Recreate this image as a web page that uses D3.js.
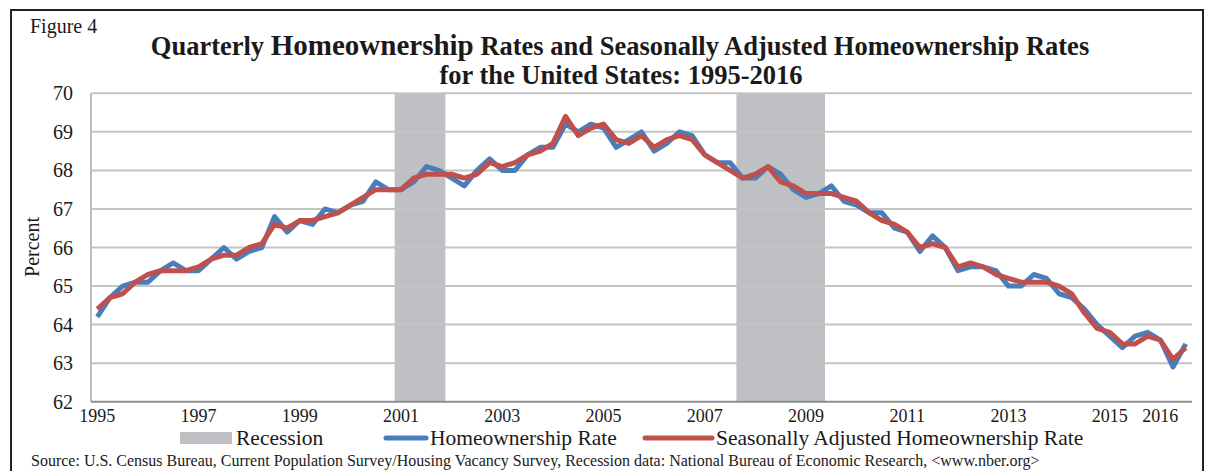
<!DOCTYPE html>
<html>
<head>
<meta charset="utf-8">
<script src="https://cdn.jsdelivr.net/npm/d3@7"></script>
<style>
  body { margin: 0; background: #fff; }
  text { font-family: "Liberation Serif", "Times New Roman", serif; fill: #1a1a1a; }
</style>
</head>
<body>
<div id="chart"></div>
<script>
// Quarterly data, 1995Q1 - 2016Q3 (by year)
var years = d3.range(1995, 2017);

var homeownership = [
  64.2, 64.7, 65.0, 65.1,   // 1995
  65.1, 65.4, 65.6, 65.4,   // 1996
  65.4, 65.7, 66.0, 65.7,   // 1997
  65.9, 66.0, 66.8, 66.4,   // 1998
  66.7, 66.6, 67.0, 66.9,   // 1999
  67.1, 67.2, 67.7, 67.5,   // 2000
  67.5, 67.7, 68.1, 68.0,   // 2001
  67.8, 67.6, 68.0, 68.3,   // 2002
  68.0, 68.0, 68.4, 68.6,   // 2003
  68.6, 69.2, 69.0, 69.2,   // 2004
  69.1, 68.6, 68.8, 69.0,   // 2005
  68.5, 68.7, 69.0, 68.9,   // 2006
  68.4, 68.2, 68.2, 67.8,   // 2007
  67.8, 68.1, 67.9, 67.5,   // 2008
  67.3, 67.4, 67.6, 67.2,   // 2009
  67.1, 66.9, 66.9, 66.5,   // 2010
  66.4, 65.9, 66.3, 66.0,   // 2011
  65.4, 65.5, 65.5, 65.4,   // 2012
  65.0, 65.0, 65.3, 65.2,   // 2013
  64.8, 64.7, 64.4, 64.0,   // 2014
  63.7, 63.4, 63.7, 63.8,   // 2015
  63.6, 62.9, 63.5          // 2016
];

var seasonallyAdjusted = [
  64.4, 64.7, 64.8, 65.1,   // 1995
  65.3, 65.4, 65.4, 65.4,   // 1996
  65.5, 65.7, 65.8, 65.8,   // 1997
  66.0, 66.1, 66.6, 66.5,   // 1998
  66.7, 66.7, 66.8, 66.9,   // 1999
  67.1, 67.3, 67.5, 67.5,   // 2000
  67.5, 67.8, 67.9, 67.9,   // 2001
  67.9, 67.8, 67.9, 68.2,   // 2002
  68.1, 68.2, 68.4, 68.5,   // 2003
  68.7, 69.4, 68.9, 69.1,   // 2004
  69.2, 68.8, 68.7, 68.9,   // 2005
  68.6, 68.8, 68.9, 68.8,   // 2006
  68.4, 68.2, 68.0, 67.8,   // 2007
  67.9, 68.1, 67.7, 67.6,   // 2008
  67.4, 67.4, 67.4, 67.3,   // 2009
  67.2, 66.9, 66.7, 66.6,   // 2010
  66.4, 66.0, 66.1, 66.0,   // 2011
  65.5, 65.6, 65.5, 65.3,   // 2012
  65.2, 65.1, 65.1, 65.1,   // 2013
  65.0, 64.8, 64.3, 63.9,   // 2014
  63.8, 63.5, 63.5, 63.7,   // 2015
  63.6, 63.1, 63.4          // 2016
];

// Recessions as [first quarter, last quarter]
var recessions = [["2001Q1", "2001Q4"], ["2007Q4", "2009Q2"]];

var xTickLabels = ["1995", "1997", "1999", "2001", "2003", "2005", "2007", "2009", "2011", "2013", "2015", "2016"];
var yTicks = [62, 63, 64, 65, 66, 67, 68, 69, 70];

// quarter names for the category axis
var quarters = homeownership.map((d, i) => (1995 + Math.floor(i / 4)) + "Q" + (i % 4 + 1));

var width = 1212, height = 471;
var plot = { left: 91, right: 1192, top: 93.3, bottom: 401.7 };

var svg = d3.select("#chart").append("svg")
    .attr("width", width)
    .attr("height", height);

// outer frame
svg.append("rect")
    .attr("x", 11).attr("y", 10)
    .attr("width", 1192).attr("height", 480)
    .attr("fill", "none")
    .attr("stroke", "#222")
    .attr("stroke-width", 2);

var x = d3.scaleBand()
    .domain(quarters)
    .range([plot.left, plot.right])
    .padding(0);

var y = d3.scaleLinear()
    .domain([62, 70])
    .range([plot.bottom, plot.top]);

var cx = q => x(q) + x.bandwidth() / 2;

// recession bars
svg.append("g").selectAll("rect")
  .data(recessions)
  .enter().append("rect")
    .attr("x", d => x(d[0]))
    .attr("width", d => x(d[1]) + x.bandwidth() - x(d[0]))
    .attr("y", y(70))
    .attr("height", y(62) - y(70))
    .attr("fill", "#bfc0c4");

// gridlines
svg.append("g").selectAll("line")
  .data(yTicks.slice(1))
  .enter().append("line")
    .attr("x1", plot.left).attr("x2", plot.right)
    .attr("y1", d => y(d)).attr("y2", d => y(d))
    .attr("stroke", "#c4c4c4")
    .attr("stroke-width", 2);

// y axis line
svg.append("line")
    .attr("x1", plot.left).attr("x2", plot.left)
    .attr("y1", y(70)).attr("y2", y(62))
    .attr("stroke", "#bdbdbd").attr("stroke-width", 2);

// x axis line
svg.append("line")
    .attr("x1", plot.left).attr("x2", plot.right)
    .attr("y1", y(62)).attr("y2", y(62))
    .attr("stroke", "#8e8e8e").attr("stroke-width", 2);

// y tick labels
svg.append("g").selectAll("text")
  .data(yTicks)
  .enter().append("text")
    .attr("x", 73)
    .attr("y", d => y(d) + 7)
    .attr("text-anchor", "end")
    .style("font-size", "20px")
    .text(d => d);

// x tick labels (at Q1 of each labelled year)
svg.append("g").selectAll("text")
  .data(xTickLabels)
  .enter().append("text")
    .attr("x", d => cx(d + "Q1"))
    .attr("y", 422)
    .attr("text-anchor", "middle")
    .style("font-size", "18px")
    .text(d => d);

// y axis title
svg.append("text")
    .attr("transform", "translate(39,247) rotate(-90)")
    .attr("text-anchor", "middle")
    .style("font-size", "20px")
    .text("Percent");

// lines
var line = series => d3.line()
    .x((d, i) => cx(quarters[i]))
    .y(d => y(d))(series);

svg.append("path")
    .attr("d", line(homeownership))
    .attr("fill", "none")
    .attr("stroke", "#4a7ebb")
    .attr("stroke-width", 5)
    .attr("stroke-linejoin", "round");

svg.append("path")
    .attr("d", line(seasonallyAdjusted))
    .attr("fill", "none")
    .attr("stroke", "#c0504d")
    .attr("stroke-width", 5)
    .attr("stroke-linejoin", "round");

// titles
svg.append("text")
    .attr("x", 30).attr("y", 33)
    .style("font-size", "20px")
    .text("Figure 4");

var title = svg.append("text")
    .attr("x", 620).attr("y", 55)
    .attr("text-anchor", "middle")
    .style("font-size", "26.5px")
    .style("font-weight", "bold");
title.append("tspan").text("Quarterly ");
title.append("tspan").style("font-size", "29px").text("Homeownership");
title.append("tspan").text(" Rates and Seasonally Adjusted Homeownership Rates");

svg.append("text")
    .attr("x", 621).attr("y", 84)
    .attr("text-anchor", "middle")
    .style("font-size", "26.5px")
    .style("font-weight", "bold")
    .text("for the United States: 1995-2016");

// legend
var leg = svg.append("g");
leg.append("rect")
    .attr("x", 180).attr("y", 432)
    .attr("width", 52).attr("height", 12)
    .attr("fill", "#bfc0c4");
leg.append("text").attr("x", 236).attr("y", 445)
    .style("font-size", "21.5px").text("Recession");

leg.append("line")
    .attr("x1", 386).attr("x2", 426).attr("y1", 438).attr("y2", 438)
    .attr("stroke", "#4a7ebb").attr("stroke-width", 5).attr("stroke-linecap", "round");
leg.append("text").attr("x", 430).attr("y", 445)
    .style("font-size", "21.5px").text("Homeownership Rate");

leg.append("line")
    .attr("x1", 645).attr("x2", 712).attr("y1", 438).attr("y2", 438)
    .attr("stroke", "#c0504d").attr("stroke-width", 5).attr("stroke-linecap", "round");
leg.append("text").attr("x", 716).attr("y", 445)
    .style("font-size", "21.5px").text("Seasonally Adjusted Homeownership Rate");

// source note
svg.append("text")
    .attr("x", 31).attr("y", 466)
    .style("font-size", "16px")
    .text("Source: U.S. Census Bureau, Current Population Survey/Housing Vacancy Survey, Recession data: National Bureau of Economic Research, <www.nber.org>");
</script>
</body>
</html>
